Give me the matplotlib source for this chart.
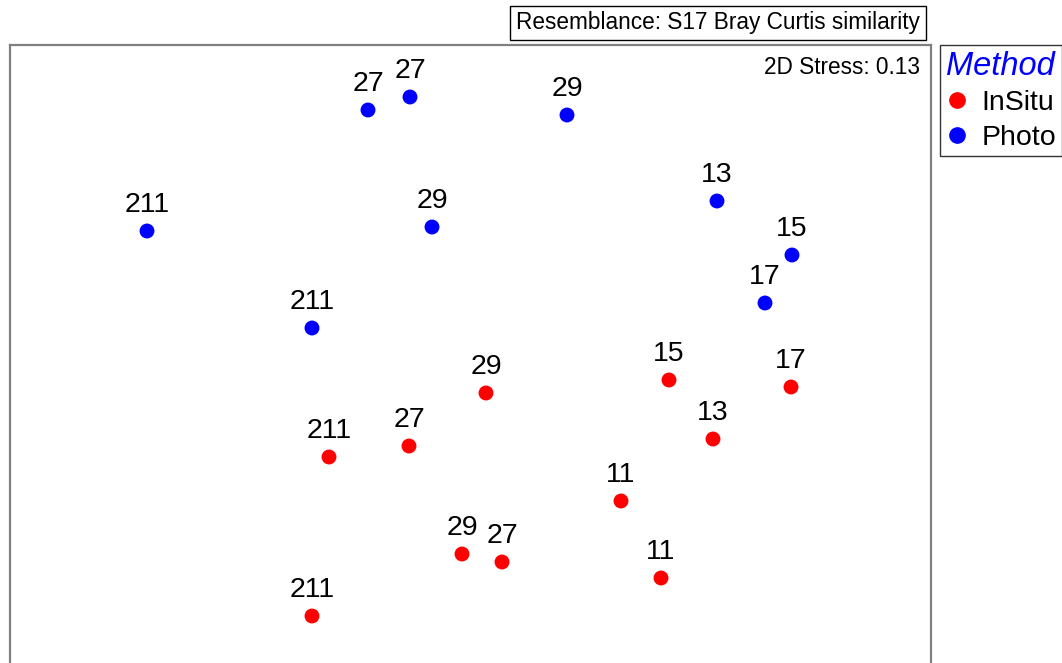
import matplotlib.pyplot as plt
from matplotlib.lines import Line2D

plt.rcParams['font.family'] = ['Liberation Sans', 'DejaVu Sans']

# MDS coordinates (screen units)
photo_x = [368, 410, 567, 147, 432, 717, 792, 765, 312]
photo_y = [110, 97, 115, 231, 227, 201, 255, 303, 328]
photo_lab = ['27', '27', '29', '211', '29', '13', '15', '17', '211']

insitu_x = [486, 669, 791, 713, 329, 409, 621, 462, 502, 661, 312]
insitu_y = [393, 380, 387, 439, 457, 446, 501, 554, 562, 578, 616]
insitu_lab = ['29', '15', '17', '13', '211', '27', '11', '29', '27', '11', '211']

W, H = 1062, 663
fig = plt.figure(figsize=(W / 100, H / 100), dpi=100)
ax = fig.add_axes([10 / W, -40 / H, 921 / W, (H - 45 + 40) / H])
ax.set_xlim(10, 931)
ax.set_ylim(703, 45)
ax.set_xticks([])
ax.set_yticks([])
for s in ax.spines.values():
    s.set_color('#808080')
    s.set_linewidth(1.6)

groups = [('InSitu', 'red', insitu_x, insitu_y, insitu_lab),
          ('Photo', 'blue', photo_x, photo_y, photo_lab)]
for name, col, xs, ys, labs in groups:
    ax.scatter(xs, ys, s=115, color=col, edgecolors='none', zorder=3)
    for x, y, t in zip(xs, ys, labs):
        ax.annotate(t, (x, y), xytext=(0, 14), textcoords='offset points',
                    ha='center', va='baseline', fontsize=20.5)

ax.text(0.9885, 0.984, '2D Stress: 0.13', transform=ax.transAxes,
        ha='right', va='top', fontsize=16.3)

fig.text(920 / W, 1 - 23 / H, 'Resemblance: S17 Bray Curtis similarity',
         ha='right', va='center', fontsize=16.3,
         bbox=dict(boxstyle='square,pad=0.25', fc='white', ec='black', lw=1))

handles = [Line2D([], [], marker='o', ls='none', color=c, markersize=11)
           for _, c, *_ in groups]
leg = fig.legend(handles, [g[0] for g in groups], title='Method',
                 loc='upper left', bbox_to_anchor=(940 / W, 1 - 45 / H),
                 fontsize=20.5, handletextpad=0.45, handlelength=0.8,
                 borderpad=0.2, labelspacing=0.3, frameon=True,
                 fancybox=False, edgecolor='black', borderaxespad=0)
leg.get_frame().set_linewidth(1)
leg.get_title().set_color('blue')
leg.get_title().set_fontstyle('italic')
leg.get_title().set_fontsize(23.5)
leg._legend_box.align = 'left'

fig.savefig('out.png', dpi=100)
